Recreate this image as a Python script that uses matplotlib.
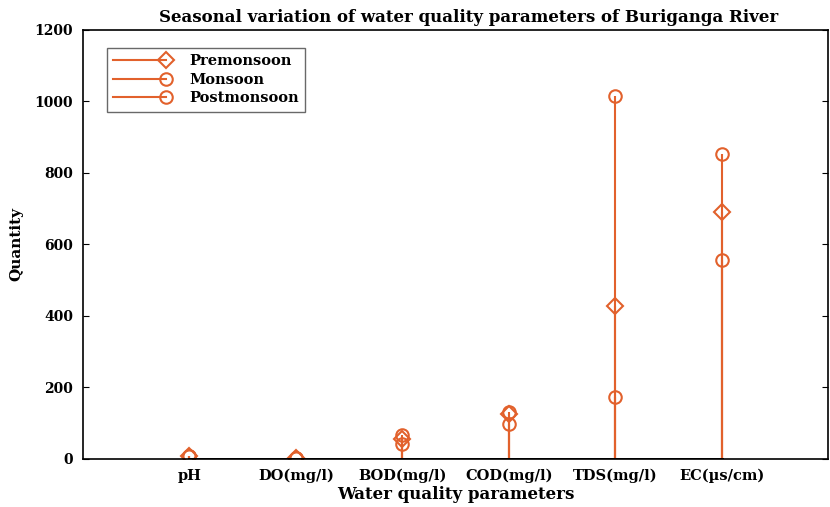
import matplotlib
matplotlib.use("Agg")
import matplotlib.pyplot as plt
from matplotlib.lines import Line2D
from matplotlib.legend_handler import HandlerLine2D

params = ["pH", "DO(mg/l)", "BOD(mg/l)", "COD(mg/l)", "TDS(mg/l)", "EC(\u00b5s/cm)"]
premonsoon = [7.4, 2.0, 55, 126, 428, 691]
monsoon = [7.2, 3.5, 42, 98, 173, 557]
postmonsoon = [7.6, 1.5, 66, 130, 1015, 853]

series = [("Premonsoon", premonsoon, "D"),
          ("Monsoon", monsoon, "o"),
          ("Postmonsoon", postmonsoon, "o")]

col = "#e2612c"
plt.rcParams["font.family"] = ["DejaVu Serif"]
plt.rcParams["font.weight"] = "bold"


class StemHandler(HandlerLine2D):
    # line with the marker sitting at its right end
    def create_artists(self, legend, orig_handle, xdescent, ydescent,
                       width, height, fontsize, trans):
        y = height / 2 - ydescent
        ln = Line2D([-xdescent, width - xdescent], [y, y], color=col, lw=1.5)
        mk = Line2D([width - xdescent], [y], marker=orig_handle.get_marker(),
                    ms=orig_handle.get_markersize(), mfc="none", mec=col, mew=1.5)
        ln.set_transform(trans)
        mk.set_transform(trans)
        return [ln, mk]


fig = plt.figure(figsize=(8.3, 5.07), dpi=100)
ax = fig.add_axes([0.1, 0.095, 0.8976, 0.846])

x = list(range(1, len(params) + 1))
handles = []
for name, vals, m in series:
    ml, sl, bl = ax.stem(x, vals, basefmt="k-")
    plt.setp(sl, color=col, lw=1.5)
    ms = 8 if m == "D" else 9
    plt.setp(ml, marker=m, ms=ms, mfc="none", mec=col, mew=1.5)
    plt.setp(bl, color="k", lw=2)
    handles.append(Line2D([], [], marker=m, ms=ms, color=col, label=name))

ax.set_xlim(0, 7)
ax.set_ylim(0, 1200)
ax.set_xticks(x)
ax.set_xticklabels(params, fontsize=10.5, fontweight="bold")
ax.set_yticks(range(0, 1201, 200))
ax.tick_params(axis="y", labelsize=10, direction="in", right=True, length=4, pad=7)
ax.tick_params(axis="x", length=0, pad=7)
for s in ax.spines.values():
    s.set_linewidth(1.2)

ax.set_title("Seasonal variation of water quality parameters of Buriganga River",
             fontsize=12, fontweight="bold", pad=6, x=0.518)
ax.set_xlabel("Water quality parameters", fontsize=12, fontweight="bold", labelpad=2)
ax.set_ylabel("Quantity", fontsize=11, fontweight="bold", labelpad=8)

leg = ax.legend(handles=handles, handler_map={Line2D: StemHandler()},
                loc="upper left", bbox_to_anchor=(0.022, 0.975), fontsize=10.5,
                frameon=True, fancybox=False, edgecolor="#444444",
                handlelength=3.6, handletextpad=1.6, borderpad=0.45,
                labelspacing=0.3)
leg.get_frame().set_linewidth(1.0)

fig.savefig("out.png", dpi=100)
